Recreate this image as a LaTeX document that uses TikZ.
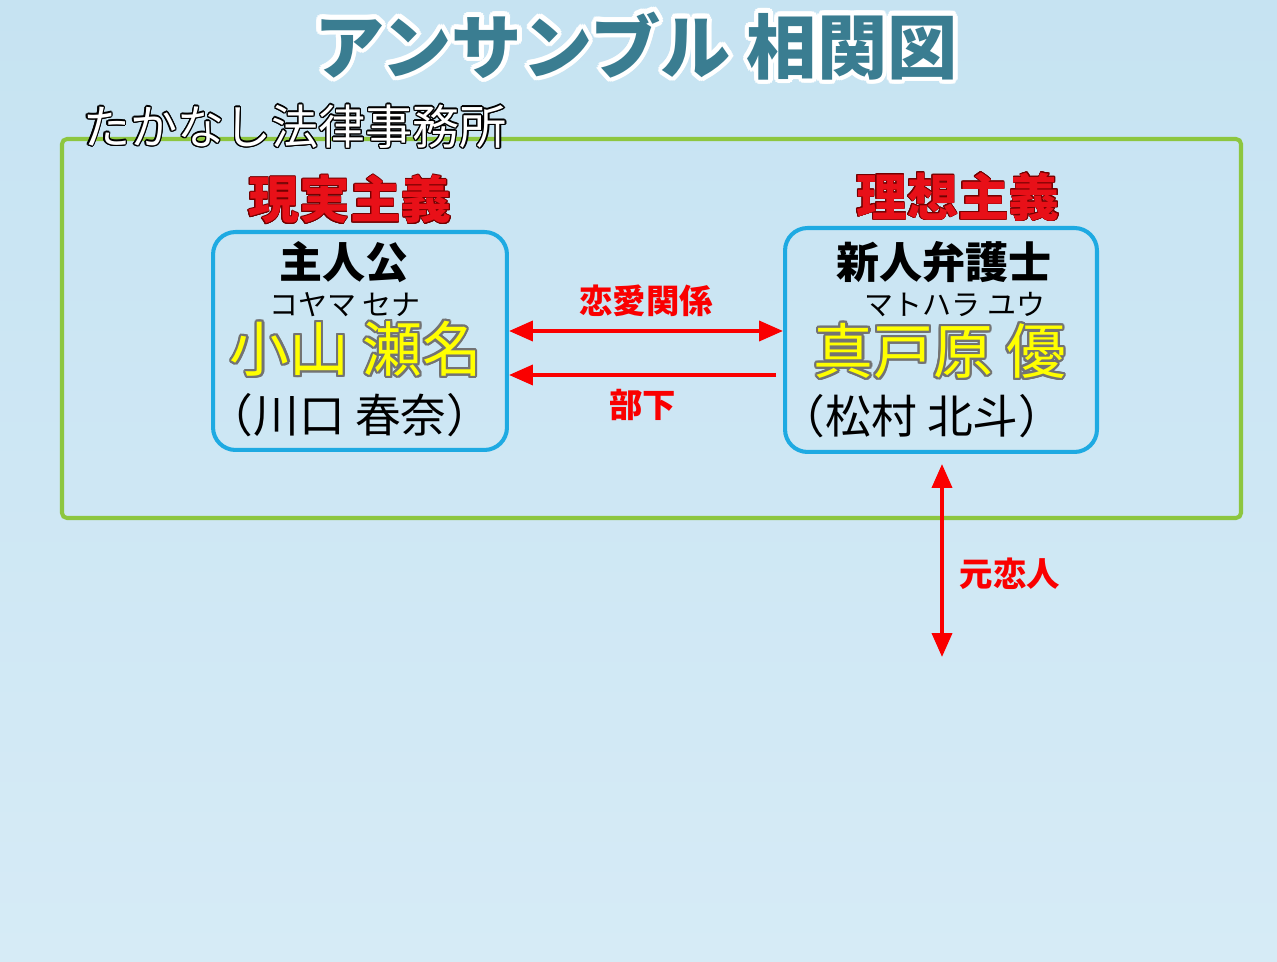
\documentclass[tikz,border=0pt]{standalone}
\usepackage{fontspec}
\usepackage{contour}
\newfontfamily\jp{Noto Sans CJK JP}
\usetikzlibrary{arrows.meta, positioning}

\definecolor{skytop}{RGB}{198,227,242}
\definecolor{skybottom}{RGB}{214,235,246}
\definecolor{titleteal}{RGB}{58,125,145}
\definecolor{firmgreen}{RGB}{141,198,63}
\definecolor{boxblue}{RGB}{30,170,226}
\definecolor{headred}{RGB}{232,16,24}
\definecolor{relred}{RGB}{250,0,0}
\definecolor{nameyellow}{RGB}{255,255,0}

\tikzset{
    personbox/.style={draw=boxblue, line width=2.3pt, rounded corners=0.45cm},
    headline/.style={font=\jp\bfseries\fontsize{29}{29}\selectfont, text=headred},
    roletext/.style={font=\jp\bfseries\fontsize{24.5}{24.5}\selectfont},
    kanatext/.style={font=\jp\fontsize{16.5}{16.5}\selectfont},
    nametext/.style={font=\jp\fontsize{34}{34}\selectfont},
    actortext/.style={font=\jp\fontsize{26}{26}\selectfont},
    relarrow/.style={draw=relred, line width=2.2pt},
    relhead/.tip={Triangle[length=0.48cm, width=0.4cm]},
    rellabel/.style={font=\jp\bfseries\fontsize{19}{19}\selectfont, text=relred}
}

\begin{document}
\begin{tikzpicture}[x=0.02cm, y=-0.02cm]
    % background
    \fill[top color=skytop, bottom color=skybottom] (0,0) rectangle (1277,962);
    \useasboundingbox (0,0) rectangle (1277,962);

    % title and firm
    \contourlength{2.6pt}
    \node[font=\jp\bfseries\fontsize{40}{40}\selectfont] (title) at (636,48)
        {\contour{white}{\textcolor{titleteal}{アンサンブル 相関図}}};
    \draw[firmgreen, line width=2.3pt, rounded corners=0.1cm] (62,139) rectangle (1241,518);
    \contourlength{0.7pt}
    \node[font=\jp\fontsize{26.8}{26.8}\selectfont] (firm) at (295,127)
        {\contour{black}{\textcolor{white}{たかなし法律事務所}}};

    % headings
    \contourlength{0.5pt}
    \node[headline] (realism) at (350,200) {\contour{red!45!black}{現実主義}};
    \node[headline] (idealism) at (958,197) {\contour{red!45!black}{理想主義}};

    % person boxes
    \node[personbox, minimum width=5.88cm, minimum height=4.36cm] (sena) at (360,341) {};
    \node[personbox, minimum width=6.24cm, minimum height=4.48cm] (yuu) at (941,340) {};

    \contourlength{1.3pt}
    \node[roletext] (senarole) at (344,262) {主人公};
    \node[kanatext] (senakana) at (345,305) {コヤマ セナ};
    \node[nametext] (senaname) at (356,350) {\contour{black!55}{\textcolor{nameyellow}{小山 瀬名}}};
    \node[actortext] (senaactor) at (350,415) {（川口 春奈）};

    \node[roletext] (yuurole) at (944,262) {新人弁護士};
    \node[kanatext] (yuukana) at (955,305) {マトハラ ユウ};
    \node[nametext] (yuuname) at (940,352) {\contour{black!55}{\textcolor{nameyellow}{真戸原 優}}};
    \node[actortext] (yuuactor) at (922,416) {（松村 北斗）};

    % relations
    \coordinate (exlover) at (942,657);
    \draw[relarrow, relhead-relhead] ([yshift=0.2cm]sena.east) -- ([yshift=0.2cm]sena.east -| yuu.west)
        node[rellabel, midway, above=0.12cm] (love) {恋愛関係};
    \draw[relarrow, -relhead] ([yshift=-0.68cm, xshift=-0.14cm]sena.east -| yuu.west) -- ([yshift=-0.68cm]sena.east)
        node[rellabel, midway, below=0.12cm] (boss) {部下};
    \draw[relarrow, relhead-relhead] ([xshift=0.02cm, yshift=-0.2cm]yuu.south) -- (exlover)
        node[rellabel, pos=0.57, right=0.2cm] (former) {元恋人};
\end{tikzpicture}
\end{document}
